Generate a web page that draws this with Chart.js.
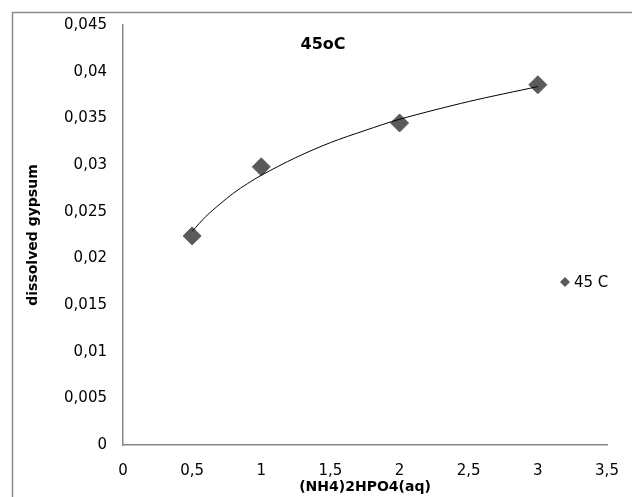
<!DOCTYPE html>
<html>
<head>
<meta charset="utf-8">
<script src="https://cdn.jsdelivr.net/npm/chart.js@4.4.0/dist/chart.umd.min.js"></script>
<style>
    body { margin: 0; background: #fff; }
    #wrap { position: relative; width: 632px; height: 497px; }
</style>
</head>
<body>
<div id="wrap"><canvas id="gypsumChart"></canvas></div>
<script>
// measured points
const concentration = [0.5, 1, 2, 3];
const dissolved = [0.0224, 0.0298, 0.0345, 0.0386];
// trend line
const trendX = [0.5, 0.6, 0.7, 0.8, 0.9, 1, 1.25, 1.5, 1.75, 2, 2.5, 3];
const trendY = [0.0229, 0.0245, 0.0258, 0.0270, 0.0280, 0.0289, 0.0308, 0.0324, 0.0337, 0.0349, 0.0368, 0.0384];
const yTicks = [0, 0.005, 0.01, 0.015, 0.02, 0.025, 0.03, 0.035, 0.04, 0.045];

const chartTitle = '45oC';
const seriesName = '45 C';

function comma(v) {
    return String(+v.toFixed(4)).replace('.', ',');
}

// outer frame, title and legend drawn over the plot like the original
const overlay = {
    id: 'overlay',
    beforeDraw(chart) {
        const ctx = chart.ctx;
        ctx.save();
        ctx.strokeStyle = '#8a8a8a';
        ctx.lineWidth = 1.5;
        ctx.strokeRect(12.5, 12.5, 1000, 1000);
        ctx.restore();
    },
    afterDraw(chart) {
        const ctx = chart.ctx;
        ctx.save();
        ctx.fillStyle = '#000';
        ctx.font = 'bold 16px "DejaVu Sans"';
        ctx.textAlign = 'center';
        ctx.textBaseline = 'middle';
        ctx.fillText(chartTitle, 323, 45);

        // legend entry
        const lx = 565, ly = 282;
        ctx.fillStyle = '#5a5a5a';
        ctx.beginPath();
        ctx.moveTo(lx, ly - 5);
        ctx.lineTo(lx + 5, ly);
        ctx.lineTo(lx, ly + 5);
        ctx.lineTo(lx - 5, ly);
        ctx.closePath();
        ctx.fill();
        ctx.fillStyle = '#000';
        ctx.font = '15px "DejaVu Sans"';
        ctx.textAlign = 'left';
        ctx.fillText(seriesName, lx + 9, ly + 1);
        ctx.restore();
    }
};

const ctx = document.getElementById('gypsumChart').getContext('2d');
const chart = new Chart(ctx, {
    type: 'scatter',
    data: {
        datasets: [{
            label: seriesName,
            data: concentration.map((x, i) => ({ x: x, y: dissolved[i] })),
            pointStyle: 'rectRot',
            pointRadius: 9,
            pointHoverRadius: 9,
            backgroundColor: '#5a5a5a',
            borderColor: '#5a5a5a',
            borderWidth: 1,
            order: 2
        }, {
            label: 'trend',
            type: 'line',
            data: trendX.map((x, i) => ({ x: x, y: trendY[i] })),
            borderColor: '#000',
            borderWidth: 1,
            pointRadius: 0,
            fill: false,
            tension: 0.3,
            order: 1
        }]
    },
    options: {
        responsive: true,
        maintainAspectRatio: false,
        animation: false,
        layout: {
            padding: { top: 23, right: 25, bottom: 0, left: 0 }
        },
        plugins: {
            legend: { display: false },
            tooltip: { enabled: false }
        },
        scales: {
            x: {
                type: 'linear',
                min: 0,
                max: 3.5,
                afterFit: function(scale) {
                    scale.height = 52;
                    scale.paddingLeft = 0;
                    scale.paddingRight = 0;
                },
                grid: { display: false, drawTicks: false },
                border: { color: '#868686', width: 1.5 },
                ticks: {
                    stepSize: 0.5,
                    padding: 17,
                    color: '#000',
                    font: { family: 'DejaVu Sans', size: 15 },
                    callback: function(value) { return comma(value); }
                },
                title: {
                    display: true,
                    text: '(NH4)2HPO4(aq)',
                    color: '#000',
                    font: { family: 'DejaVu Sans', size: 14, weight: 'bold' },
                    padding: { top: 0, bottom: 1 }
                }
            },
            y: {
                min: 0,
                max: 0.045,
                afterFit: function(scale) { scale.width = 123; },
                afterBuildTicks: function(scale) {
                    scale.ticks = yTicks.map(v => ({ value: v }));
                },
                grid: { display: false, drawTicks: false },
                border: { color: '#868686', width: 1.5 },
                ticks: {
                    padding: 16,
                    color: '#000',
                    font: { family: 'DejaVu Sans', size: 15 },
                    callback: function(value) { return comma(value); }
                },
                title: {
                    display: true,
                    text: 'dissolved gypsum',
                    color: '#000',
                    font: { family: 'DejaVu Sans', size: 14, weight: 'bold' },
                    padding: { top: 25, bottom: 0 }
                }
            }
        }
    },
    plugins: [overlay]
});
</script>
</body>
</html>
